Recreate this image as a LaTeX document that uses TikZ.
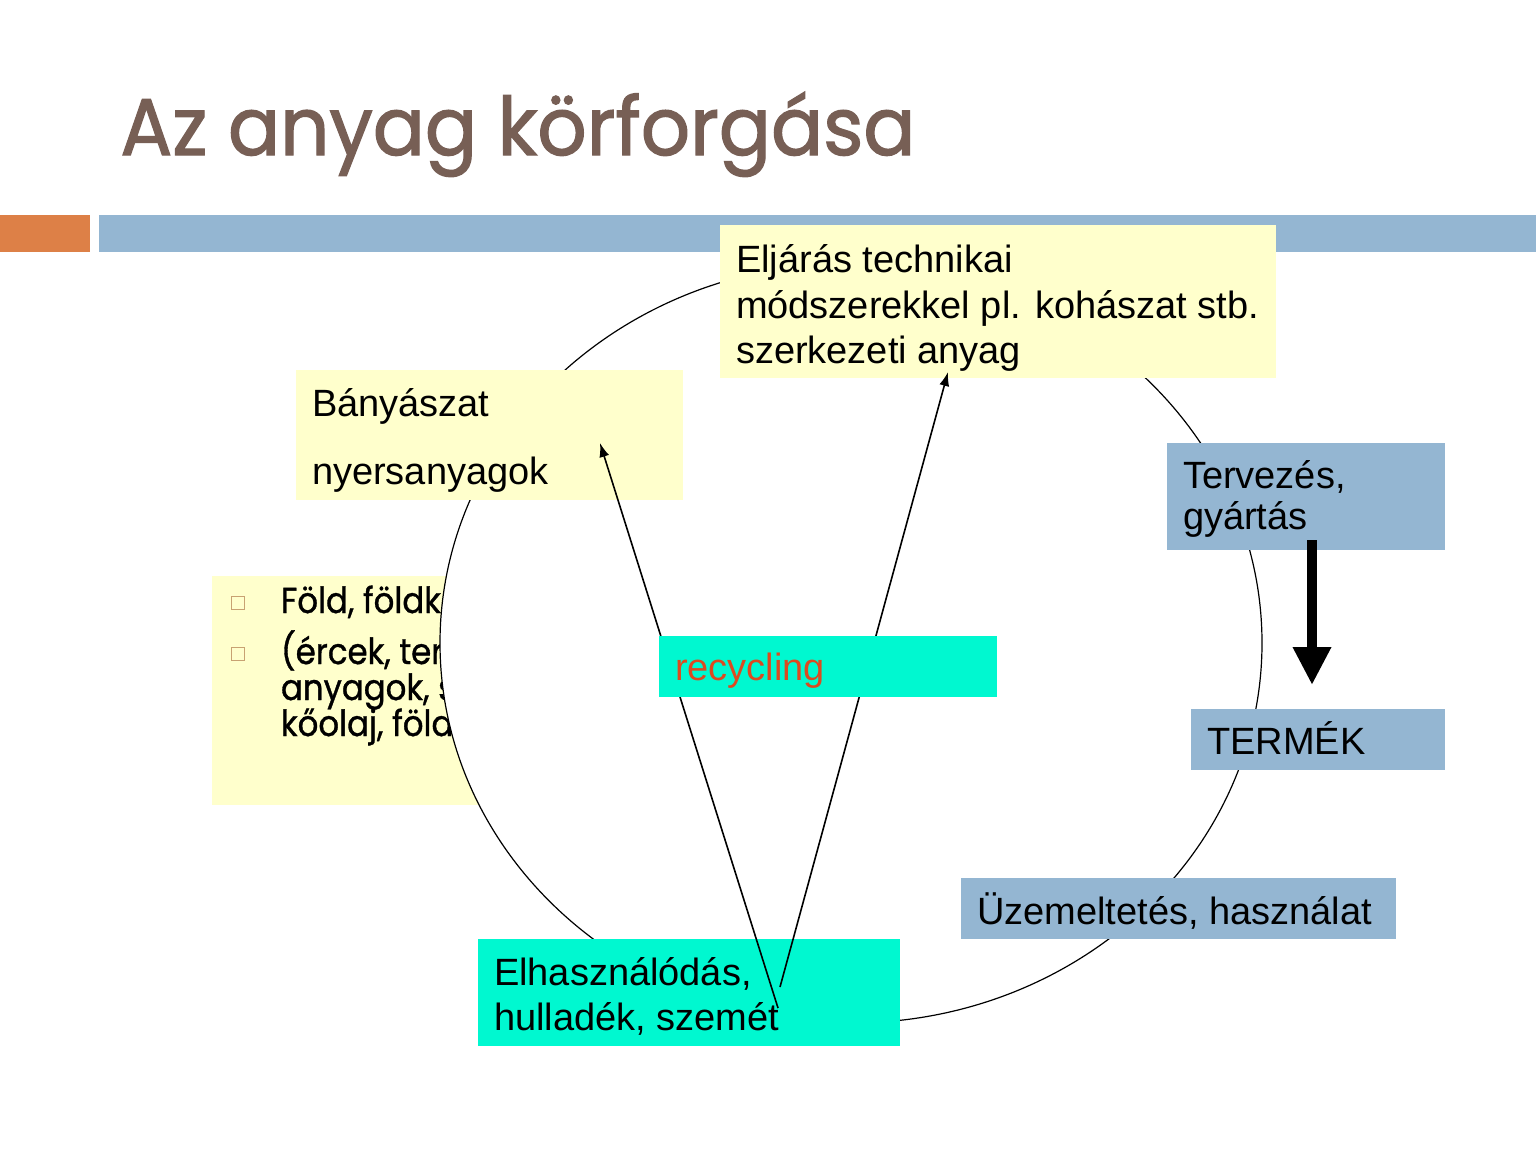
\documentclass[tikz,border=0pt]{standalone}
\usepackage{fontspec}
\setmainfont{Liberation Sans}
\newfontfamily\geofont{Poppins}[FakeBold=1]
\newfontfamily\geotitle{Poppins}[FakeBold=1.6]
\usepackage{graphicx}
\usetikzlibrary{arrows.meta,shapes.geometric}
\definecolor{titlebrown}{HTML}{775F55}
\definecolor{barblue}{HTML}{94B6D2}
\definecolor{barorange}{HTML}{DD8047}
\definecolor{paleyellow}{HTML}{FFFFCC}
\definecolor{aqua}{HTML}{00F8D0}
\definecolor{recred}{HTML}{DC4A20}
\definecolor{bullettan}{HTML}{C8A272}

\begin{document}
\begin{tikzpicture}[x=0.5pt,y=-0.5pt,
  box/.style={anchor=north west, inner sep=0, outer sep=0, draw=none},
  ybox/.style={box, fill=paleyellow},
  bbox/.style={box, fill=barblue},
  abox/.style={box, fill=aqua},
  txt/.style={anchor=base west, inner sep=0, outer sep=0, font=\fontsize{19}{23}\selectfont},
  geotxt/.style={anchor=base west, inner sep=0, outer sep=0, font=\geofont\fontsize{18}{21}\selectfont},
  sqbullet/.style={draw=bullettan, line width=0.7pt, minimum size=6.5pt, inner sep=0},
  thinarrow/.style={line width=0.8pt, -{Latex[length=7pt,width=5pt]}},
  fatarrow/.style={line width=5pt, -{Triangle[length=19pt,width=18pt]}}]

\useasboundingbox (0,0) rectangle (1536,1152);
\fill[white] (0,0) rectangle (1536,1152);

% header bars
\node[box, fill=barorange, minimum width=45pt, minimum height=18.5pt] (orangebar) at (0,215) {};
\node[box, fill=barblue, minimum width=718.5pt, minimum height=18.5pt] (bluebar) at (99,215) {};

% title
\node[anchor=base west, inner sep=0, text=titlebrown] (title) at (120,155)
  {\resizebox{397.5pt}{31.5pt}{\geotitle Az anyag körforgása}};

% source box (partly covered by the cycle)
\node[ybox, minimum width=144pt, minimum height=114.5pt] (earth) at (212,576) {};
\node[sqbullet] (bul1) at (238,603) {};
\node[sqbullet] (bul2) at (238,654) {};
\node[geotxt] (e1) at (281,613) {\scalebox{0.9}[1]{Föld, földk}};
\node[geotxt] (e2) at (281,664) {\scalebox{0.9}[1]{(ércek, ter}};
\node[geotxt] (e3) at (281,700) {\scalebox{0.9}[1]{anyagok, s}};
\node[geotxt] (e4) at (281,736) {\scalebox{0.9}[1]{kőolaj, föld}};

% the material cycle
\node[ellipse, draw=black, line width=0.6pt, fill=white, inner sep=0,
      minimum width=411pt, minimum height=380pt] (cycle) at (851,643) {};

% stages
\node[ybox, minimum width=278pt, minimum height=76.5pt] (eljaras) at (720,225) {};
\node[txt] (el1) at (736,272) {Eljárás technikai};
\node[txt] (el2) at (736,318) {módszerekkel pl. kohászat stb.};
\node[txt] (el3) at (736,363) {szerkezeti anyag};

\node[ybox, minimum width=193.5pt, minimum height=65pt] (banya) at (296,370) {};
\node[txt] (ba1) at (312,416) {Bányászat};
\node[txt] (ba2) at (312,484) {nyersanyagok};

\node[bbox, minimum width=139pt, minimum height=53.5pt] (terv) at (1167,443) {};
\node[txt] (te1) at (1183,488) {Tervezés,};
\node[txt] (te2) at (1183,529) {gyártás};

\node[bbox, minimum width=127pt, minimum height=30.5pt] (termek) at (1191,709) {};
\node[txt] (tm1) at (1207,754) {TERMÉK};

\node[bbox, minimum width=217.5pt, minimum height=30.5pt] (uzem) at (961,878) {};
\node[txt] (uz1) at (977,924) {Üzemeltetés, használat};

\node[abox, minimum width=211pt, minimum height=53.5pt] (elhasz) at (478,939) {};
\node[txt] (eh1) at (494,985) {Elhasználódás,};
\node[txt] (eh2) at (494,1030) {hulladék, szemét};

% recycling paths
\coordinate (fromwasteA) at (778,1008);
\coordinate (tomining) at (600,443);
\coordinate (fromwasteB) at (780,987);
\coordinate (toprocess) at (948,372);
\draw[thinarrow] (fromwasteA) -- (tomining);
\draw[thinarrow] (fromwasteB) -- (toprocess);

\node[abox, minimum width=169pt, minimum height=30.5pt] (recyc) at (659,636) {};
\node[txt, text=recred] (rc1) at (675,680) {recycling};

% production step
\coordinate (prodstart) at (1312,540);
\coordinate (prodend) at (1312,685);
\draw[fatarrow] (prodstart) -- (prodend);

\end{tikzpicture}
\end{document}
